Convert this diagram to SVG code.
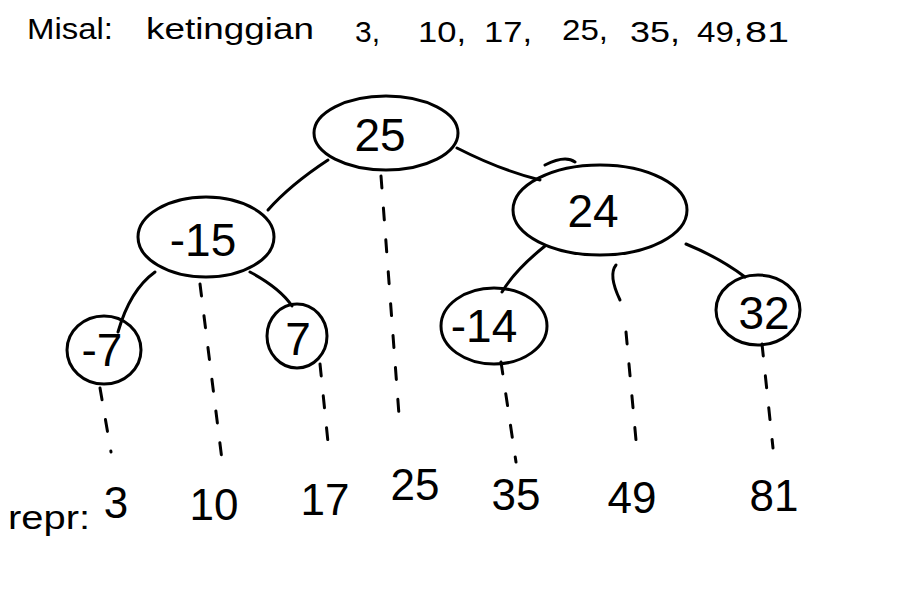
<svg xmlns="http://www.w3.org/2000/svg" width="905" height="611" viewBox="0 0 905 611">
<style>
.n{fill:none;stroke:#000;stroke-width:3}
.e{fill:none;stroke:#000;stroke-width:3;stroke-linecap:round}
.d{fill:none;stroke:#000;stroke-width:3;stroke-linecap:round;stroke-dasharray:12 20}
.t{font-family:"Liberation Sans",Arial,sans-serif;fill:#000}
.h{font-size:30px}
.nt{font-size:46px;text-anchor:middle}
.b{font-size:44px;text-anchor:middle}
</style>
<rect width="905" height="611" fill="#fff"/>
<g id="title" class="t h">
<text x="27" y="39" textLength="86" lengthAdjust="spacingAndGlyphs">Misal:</text>
<text x="146" y="39" textLength="168" lengthAdjust="spacingAndGlyphs">ketinggian</text>
<text x="355" y="42">3,</text>
<text x="418" y="42" textLength="48" lengthAdjust="spacingAndGlyphs">10,</text>
<text x="484" y="42" textLength="48" lengthAdjust="spacingAndGlyphs">17,</text>
<text x="562" y="40" textLength="46" lengthAdjust="spacingAndGlyphs">25,</text>
<text x="630" y="42" textLength="50" lengthAdjust="spacingAndGlyphs">35,</text>
<text x="697" y="42" textLength="46" lengthAdjust="spacingAndGlyphs">49,</text>
<text x="745" y="42" textLength="44" lengthAdjust="spacingAndGlyphs">81</text>
</g>
<g id="connectors">
<path class="e" d="M328,160 Q290,185 268,210"/>
<path class="e" d="M457,148 Q500,170 540,180 M545,165 Q565,155 575,162"/>
<path class="d" d="M381,176 L400,428"/>
<path class="e" d="M155,272 Q130,290 118,332"/>
<path class="e" d="M250,272 Q280,288 292,306"/>
<path class="d" d="M200,284 L222,460"/>
<path class="e" d="M545,246 Q515,270 502,292"/>
<path class="e" d="M686,244 Q720,258 745,277"/>
<path class="e" d="M616,265 Q608,275 620,300"/>
<path class="d" d="M626,332 L636,440"/>
<path class="d" d="M100,388 L111,452"/>
<path class="d" d="M320,364 L329,452"/>
<path class="d" d="M501,362 L516,462"/>
<path class="d" d="M762,344 L773,448"/>
</g>
<g id="n25"><ellipse class="n" cx="386" cy="133" rx="72" ry="37"/><text class="t nt" x="380" y="151">25</text></g>
<g id="n-15"><ellipse class="n" cx="206" cy="237" rx="68" ry="40"/><text class="t nt" x="203" y="256">-15</text></g>
<g id="n24"><ellipse class="n" cx="600" cy="210" rx="87" ry="45"/><text class="t nt" x="593" y="227">24</text></g>
<g id="n-7"><ellipse class="n" cx="104" cy="350" rx="37" ry="34"/><text class="t nt" x="102" y="366">-7</text></g>
<g id="n7"><ellipse class="n" cx="297" cy="336" rx="30" ry="32"/><text class="t nt" x="298" y="355">7</text></g>
<g id="n-14"><ellipse class="n" cx="494" cy="326" rx="53" ry="38"/><text class="t nt" x="484" y="342">-14</text></g>
<g id="n32"><ellipse class="n" cx="758" cy="310" rx="42" ry="35"/><text class="t nt" x="764" y="329">32</text></g>
<g id="repr" class="t">
<text x="8" y="529" style="font-size:34px" textLength="82" lengthAdjust="spacingAndGlyphs">repr:</text>
<text class="b" x="116" y="518">3</text>
<text class="b" x="214" y="520">10</text>
<text class="b" x="325" y="515">17</text>
<text class="b" x="415" y="500">25</text>
<text class="b" x="516" y="510">35</text>
<text class="b" x="632" y="513">49</text>
<text class="b" x="774" y="511">81</text>
</g>
</svg>
